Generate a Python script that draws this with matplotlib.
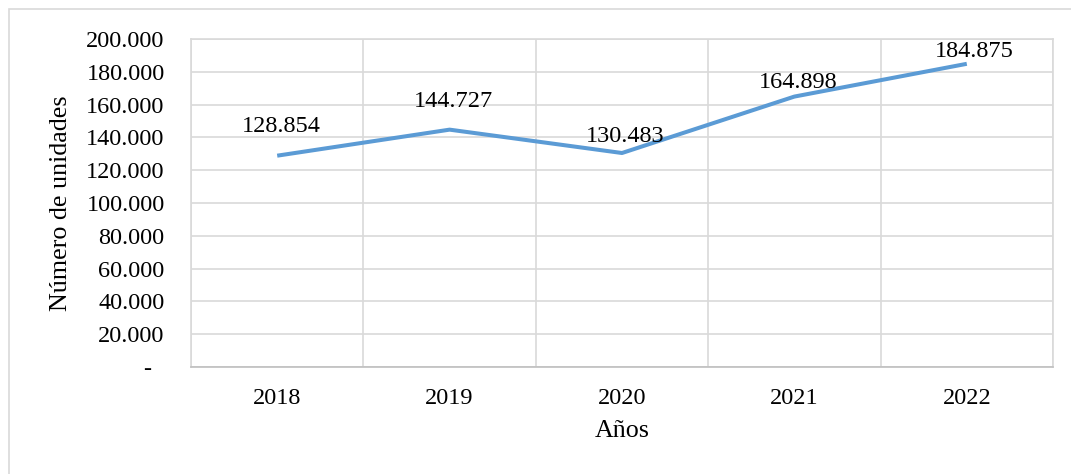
import matplotlib
matplotlib.use("Agg")
from matplotlib import pyplot as plt
from matplotlib.patches import Rectangle
from matplotlib.ticker import FuncFormatter

years = ["2018", "2019", "2020", "2021", "2022"]
units = [128854, 144727, 130483, 164898, 184875]
labels = ["128.854", "144.727", "130.483", "164.898", "184.875"]

plt.rcParams['font.family'] = ['Liberation Serif', 'DejaVu Serif']

fig = plt.figure(figsize=(10.71, 4.74), dpi=100)
ax = fig.add_axes([191/1071, 107/474, 862/1071, 328/474])

# outer chart border (Excel style)
fig.patches.append(Rectangle((9/1071, -0.1), 1.2, 465/474 + 0.1, transform=fig.transFigure,
                             fill=False, edgecolor='#D9D9D9', linewidth=1.2))

x = list(range(len(years)))
ax.plot(x, units, color='#5B9BD5', linewidth=2.9, solid_capstyle='butt')

# label offsets (pixels, manually placed in the original)
offs = [(4, 24), (4, 23), (3, 11), (4, 9), (7, 7)]
for xi, yi, lab, (dx, dy) in zip(x, units, labels, offs):
    ax.annotate(lab, (xi, yi), xytext=(dx * 0.72, dy * 0.72), textcoords='offset points',
                ha='center', va='baseline', fontsize=17.5, color='black')

ax.set_xlim(-0.5, len(years) - 0.5)
ax.set_ylim(0, 200000)
ax.set_xticks(x)
ax.set_xticklabels(years)
ax.set_xticks([i - 0.5 for i in range(len(years) + 1)], minor=True)
ax.set_yticks(range(0, 200001, 20000))

def fmt(v, pos):
    if v == 0:
        return "-  "
    return f"{int(v):,}".replace(",", ".")
ax.yaxis.set_major_formatter(FuncFormatter(fmt))

ax.grid(True, axis='y', which='major', color='#D9D9D9', linewidth=1.2)
ax.grid(True, axis='x', which='minor', color='#D9D9D9', linewidth=1.2)
ax.set_axisbelow(True)
ax.tick_params(axis='both', which='both', length=0, labelsize=17.5)
ax.tick_params(axis='x', pad=15)
ax.tick_params(axis='y', pad=19)
for s in ax.spines.values():
    s.set_color('#D9D9D9')
    s.set_linewidth(1.2)
ax.spines['bottom'].set_color('#BFBFBF')

ax.set_ylabel("Número de unidades", fontsize=18.7, labelpad=10)
ax.set_xlabel("Años", fontsize=18.7, labelpad=8)

fig.savefig("out.png", dpi=100)
